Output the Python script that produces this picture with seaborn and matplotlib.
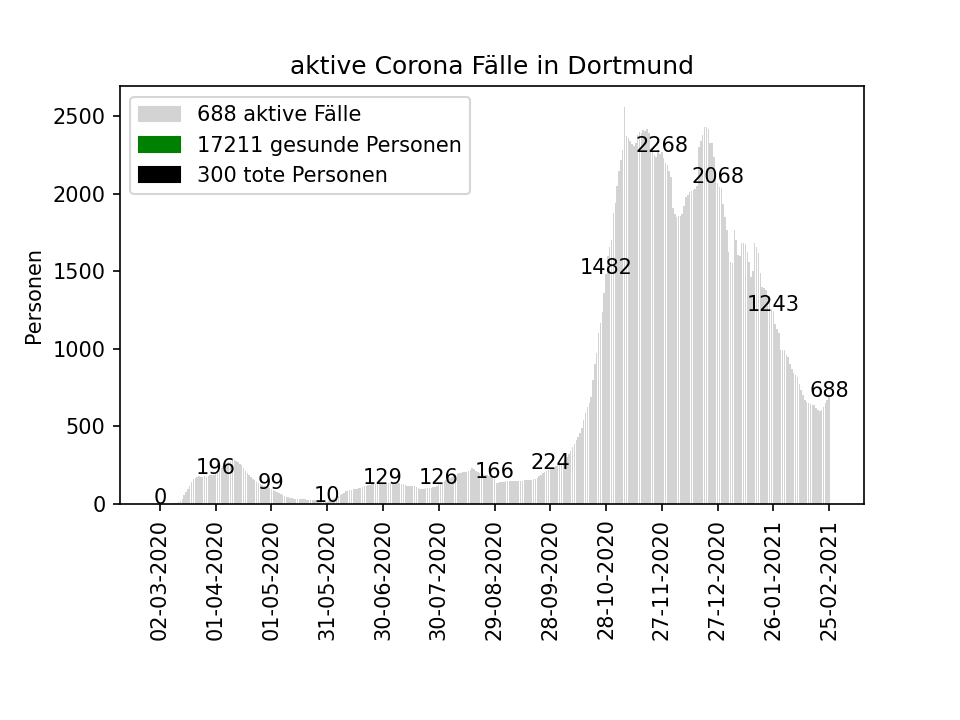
import numpy as np
import pandas as pd
import matplotlib
matplotlib.use('Agg')
import matplotlib.pyplot as plt
from matplotlib.patches import Patch
import seaborn as sns

# aktive Fälle pro Tag, ab 27-02-2020
vor_start = [0, 0, 0, 0]
block_00 = [0, 0, 0, 0, 0, 1, 2, 3, 5, 8, 12, 20, 35, 55, 75, 95, 115, 140, 160, 170,
            176, 178, 176, 175, 178, 177, 180, 185, 188, 190]
block_01 = [196, 200, 215, 230, 245, 255, 262, 270, 278, 283, 283, 280, 272, 260, 250,
            235, 215, 200, 188, 175, 162, 155, 145, 135, 128, 122, 118, 115, 112, 106]
block_02 = [99, 92, 85, 79, 72, 65, 58, 52, 47, 44, 40, 37, 35, 33, 32,
            32, 31, 30, 30, 29, 28, 27, 26, 25, 24, 22, 19, 16, 14, 12]
block_03 = [10, 18, 26, 34, 40, 46, 52, 58, 66, 74, 82, 87, 90, 92, 94,
            96, 98, 100, 103, 110, 116, 118, 121, 124, 127, 130, 132, 134, 135, 133]
block_04 = [129, 131, 133, 135, 136, 134, 135, 137, 136, 134, 132, 128, 120, 118, 116,
            117, 115, 116, 112, 105, 96, 95, 98, 102, 103, 101, 104, 108, 112, 118]
block_05 = [126, 135, 142, 150, 156, 160, 167, 175, 182, 190, 196, 200, 203, 205, 206,
            208, 212, 220, 232, 228, 210, 205, 200, 198, 195, 190, 185, 182, 178, 172]
block_06 = [166, 135, 138, 140, 143, 145, 148, 150, 151, 150, 149, 150, 150, 151, 149,
            150, 152, 155, 155, 154, 156, 158, 162, 170, 180, 190, 200, 205, 210, 218]
block_07 = [224, 228, 235, 242, 250, 258, 265, 272, 285, 300, 320, 345, 370, 390, 410,
            430, 457, 490, 541, 590, 625, 650, 690, 800, 906, 972, 1100, 1165, 1240, 1358]
block_08 = [1482, 1600, 1655, 1700, 1874, 1938, 2050, 2150, 2220, 2280, 2557, 2376, 2360, 2340, 2320,
            2310, 2330, 2380, 2400, 2395, 2410, 2405, 2420, 2390, 2290, 2270, 2250, 2240, 2280, 2260]
block_09 = [2268, 2230, 2200, 2183, 2150, 2106, 1906, 1870, 1850, 1860, 1855, 1870, 1920, 1977, 1990,
            2010, 2020, 2022, 2030, 2050, 2300, 2344, 2380, 2430, 2430, 2420, 2325, 2330, 2236, 2150]
block_10 = [2068, 2043, 2040, 1936, 1850, 1765, 1625, 1560, 1555, 1765, 1700, 1603, 1600, 1680, 1680,
            1675, 1625, 1560, 1462, 1500, 1680, 1660, 1620, 1487, 1397, 1390, 1380, 1333, 1300, 1260]
block_11 = [1243, 1164, 1130, 1100, 992, 995, 990, 960, 948, 906, 870, 842, 830, 820, 777,
            735, 700, 670, 655, 650, 645, 640, 640, 620, 605, 600, 605, 625, 650, 670]
ende = [688]

gesund = 17211
tot = 300

aktiv = (vor_start + block_00 + block_01 + block_02 + block_03 + block_04 + block_05
         + block_06 + block_07 + block_08 + block_09 + block_10 + block_11 + ende)
datum = pd.date_range('2020-02-27', periods=len(aktiv))
df = pd.DataFrame({'pos': np.arange(len(aktiv)), 'aktiv': aktiv})

fig, ax = plt.subplots(figsize=(6.4, 4.8), dpi=150)
plt.subplots_adjust(bottom=0.3)

sns.barplot(data=df, x='pos', y='aktiv', color='lightgrey', saturation=1,
            width=0.8, linewidth=0, ax=ax)

# Beschriftung alle 30 Tage
start = len(vor_start)
tick_pos = list(range(start, len(aktiv), 30))
for p in tick_pos:
    ax.text(p, aktiv[p], str(aktiv[p]), ha='center')

ax.set_xticks(tick_pos)
ax.set_xticklabels([datum[p].strftime('%d-%m-%Y') for p in tick_pos], rotation=90)
ax.set_xlim(-17.5, 382.8)
ax.set_ylim(0, 2693)
ax.set_xlabel('')
ax.set_ylabel('Personen')
ax.set_title('aktive Corona Fälle in Dortmund')

handles = [Patch(color='lightgrey', label=f'{aktiv[-1]} aktive Fälle'),
           Patch(color='green', label=f'{gesund} gesunde Personen'),
           Patch(color='black', label=f'{tot} tote Personen')]
ax.legend(handles=handles, loc='upper left')

plt.savefig('out.png', dpi=150)
